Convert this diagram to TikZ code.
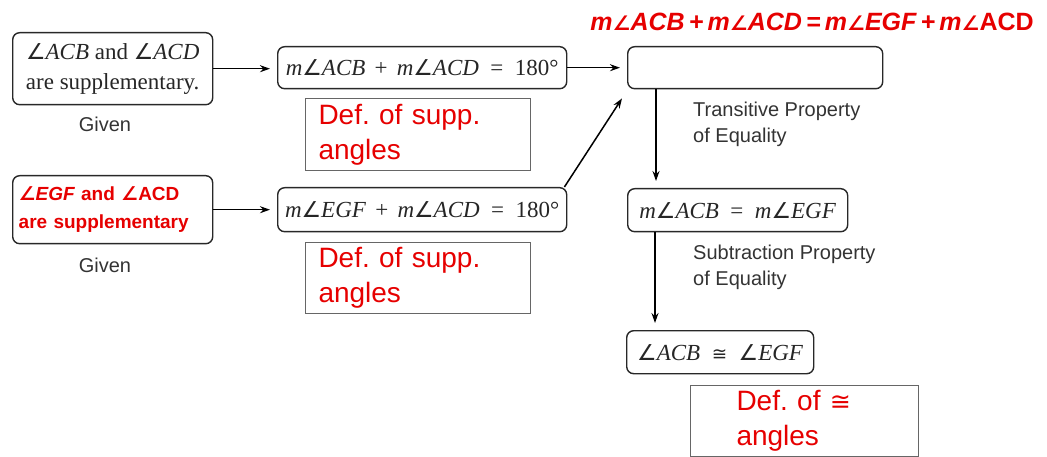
\documentclass[tikz,border=0pt]{standalone}
\usepackage{fontspec}
\setmainfont{Liberation Serif}
\newfontfamily\arial{Liberation Sans}
\newfontfamily\dvs{DejaVu Sans}
\usetikzlibrary{arrows.meta}
\definecolor{redtxt}{RGB}{230,0,0}
\definecolor{boxline}{RGB}{40,40,40}
\newcommand{\ang}{{\dvs\scalebox{0.95}{∠}}}
\newcommand{\bang}{{\dvs\bfseries\itshape ∠}}
\newcommand{\tang}{{\dvs\bfseries\itshape\scalebox{0.8}{∠}}}
\frenchspacing
\begin{document}
\begin{tikzpicture}[x=1pt,y=-1pt,
 stmt/.style={draw=boxline, line width=1.4pt, rounded corners=7pt, inner sep=0pt, anchor=north west, text=black!85, font=\fontsize{23}{30}\selectfont, align=center},
 reason/.style={draw=black!60, line width=1pt, inner ysep=0pt, anchor=north west, text=redtxt, font=\arial\fontsize{28}{35}\selectfont, align=left},
 arr/.style={-{Stealth[length=10pt,width=7pt]}, line width=1.5pt, shorten >=7pt},
 lbl/.style={font=\arial\fontsize{20}{26}\selectfont, text=black!80, align=left, inner sep=0pt}
]
\useasboundingbox (0,0) rectangle (1047,457);

% left column
\node[stmt, minimum width=200pt, minimum height=72pt] (g1) at (12,32)
  {\ang\textit{ACB} and \ang\textit{ACD}\\are supplementary.};
\node[lbl, anchor=center] (given1) at (105,124) {Given};

\node[stmt, minimum width=200pt, minimum height=68pt, text width=188pt, inner xsep=6pt, align=left,
      text=redtxt, font=\arial\bfseries\fontsize{19}{28}\selectfont] (g2) at (12,175)
  {{\itshape\bang EGF} and {\dvs\bfseries ∠}ACD\\are supplementary};
\node[lbl, anchor=center] (given2) at (105,265) {Given};

% middle column
\node[stmt, minimum width=289pt, minimum height=42pt] (s1) at (277,46)
  {\textit{m}\ang\textit{ACB}\hspace{0.4em}+\hspace{0.4em}\textit{m}\ang\textit{ACD}\hspace{0.5em}=\hspace{0.5em}180°};
\node[reason, minimum width=225pt, minimum height=72pt, text width=199pt, inner xsep=13pt] (r1) at (305,98)
  {Def. of supp.\\angles};

\node[stmt, minimum width=289pt, minimum height=44pt] (s2) at (277,187)
  {\textit{m}\ang\textit{EGF}\hspace{0.4em}+\hspace{0.4em}\textit{m}\ang\textit{ACD}\hspace{0.5em}=\hspace{0.5em}180°};
\node[reason, minimum width=225pt, minimum height=71pt, text width=199pt, inner xsep=13pt] (r2) at (305,242)
  {Def. of supp.\\angles};

% right column
\node[font=\arial\bfseries\itshape\fontsize{25}{30}\selectfont, text=redtxt, inner sep=0pt] (title) at (812,22)
  {m\tang ACB\,+\,m\tang ACD\,=\,m\tang EGF\,+\,m\tang\textup{ACD}};
\node[stmt, minimum width=255pt, minimum height=42pt] (s3) at (627,46) {};
\node[lbl, anchor=west] (tp) at (693,124) {Transitive Property\\of Equality};

\node[stmt, minimum width=220pt, minimum height=43pt] (s4) at (627,188)
  {\textit{m}\ang\textit{ACB}\hspace{0.5em}=\hspace{0.5em}\textit{m}\ang\textit{EGF}};
\node[lbl, anchor=west] (sp) at (693,267) {Subtraction Property\\of Equality};

\node[stmt, minimum width=187pt, minimum height=43pt] (s5) at (626,330)
  {\ang\textit{ACB}\hspace{0.5em}{\dvs\scalebox{0.8}{≅}}\hspace{0.5em}\ang\textit{EGF}};
\node[reason, minimum width=228pt, minimum height=71pt, text width=182pt, inner xsep=23pt] (r3) at (690,385)
  {\hspace*{23pt}Def. of {\dvs\scalebox{0.9}{≅}}\\\hspace*{23pt}angles};

% connectors
\draw[arr] (g1.east) -- (g1.east -| s1.west);
\draw[arr] (g2.east) -- (g2.east -| s2.west);
\draw[arr] (s1.east) -- (s1.east -| s3.west);
\draw[arr, shorten >=0pt] ([xshift=-3pt]s2.north east) -- ([xshift=-5pt,yshift=-9pt]s3.south west);
\draw[arr] ([xshift=29pt]s3.south west) -- ([xshift=29pt]s4.north west);
\draw[arr] ([xshift=28pt]s4.south west) -- ([xshift=29pt]s5.north west);
\end{tikzpicture}
\end{document}
